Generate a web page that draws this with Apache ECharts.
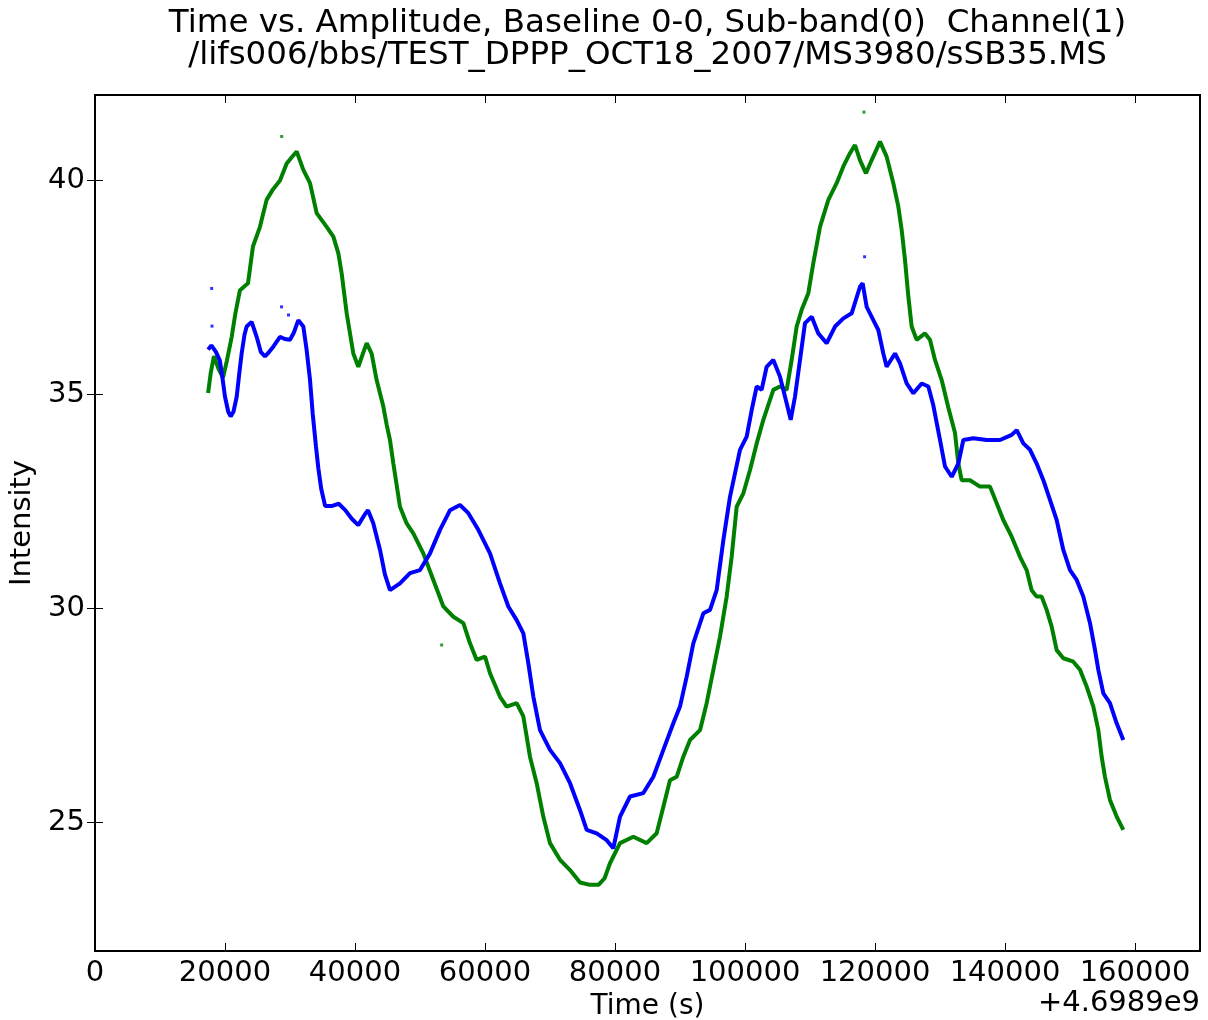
<!DOCTYPE html>
<html>
<head>
<meta charset="utf-8">
<script src="https://cdn.jsdelivr.net/npm/echarts@6/dist/echarts.min.js"></script>
<style>html,body{margin:0;padding:0;background:#fff}#c{width:1208px;height:1020px}</style>
</head>
<body>
<div id="c"></div>
<script>
// ---- data (time offset from 4.6989e9 s, amplitude) ----
const titleLine1 = "Time vs. Amplitude, Baseline 0-0, Sub-band(0)  Channel(1)";
const titleLine2 = "/lifs006/bbs/TEST_DPPP_OCT18_2007/MS3980/sSB35.MS";
const xTicks = [0, 20000, 40000, 60000, 80000, 100000, 120000, 140000, 160000];
const yTicks = [25, 30, 35, 40];
const xOffsetLabel = "+4.6989e9";

const blueTime = [17400,17900,18600,19200,19600,20000,20500,20870,21300,21800,22200,22560,23000,23330,24100,24870,25500,26150,26800,27430,28460,29200,30000,30600,31280,32050,32560,33080,33490,34000,34360,34800,35400,36500,37500,38500,39500,40500,41500,42000,42800,43850,44600,45380,46920,48460,50000,51540,53080,54620,56150,57440,58970,60770,62310,63590,64870,65900,66670,67440,68460,70000,71540,73080,74620,75640,77180,78720,79740,80770,82310,84360,85900,87440,88970,90000,91030,92050,93590,94620,95640,96670,97690,99230,100260,101030,101800,102560,103330,104360,105380,106410,107030,107690,108460,109230,110260,111280,112560,113850,115130,116410,117690,118100,118720,119740,120510,121280,121790,123080,123850,124870,125900,127180,128210,128970,130000,130770,131800,132820,133590,135130,137180,139230,141030,141800,142820,143850,144870,145900,146920,147950,148970,150000,151030,152050,153080,153850,154360,155130,156150,157180,158200];
const blueAmp = [36.05,36.15,36.0,35.8,35.4,34.95,34.6,34.49,34.6,34.95,35.5,35.96,36.4,36.59,36.7,36.35,36.0,35.89,36.0,36.12,36.35,36.3,36.28,36.45,36.74,36.59,36.04,35.34,34.56,33.78,33.28,32.8,32.4,32.4,32.45,32.3,32.1,31.95,32.2,32.3,32.0,31.37,30.8,30.43,30.59,30.83,30.9,31.29,31.84,32.3,32.42,32.23,31.84,31.29,30.59,30.05,29.73,29.42,28.72,27.94,27.16,26.7,26.39,25.92,25.29,24.83,24.75,24.59,24.4,25.14,25.61,25.69,26.07,26.7,27.32,27.71,28.41,29.19,29.89,29.97,30.43,31.6,32.61,33.71,34.02,34.64,35.19,35.11,35.65,35.81,35.42,34.8,34.41,34.95,35.81,36.67,36.82,36.43,36.2,36.59,36.78,36.9,37.52,37.6,37.05,36.74,36.51,35.96,35.65,35.96,35.73,35.26,35.03,35.26,35.19,34.75,33.94,33.32,33.08,33.39,33.94,33.98,33.94,33.94,34.06,34.17,33.86,33.71,33.39,33.0,32.54,32.07,31.37,30.9,30.67,30.28,29.66,29.03,28.57,28.02,27.79,27.32,26.93];

const greenTime = [17400,17800,18300,19000,19700,20300,21030,21600,22300,23540,24300,25380,26400,27400,28460,29490,30300,31030,32050,33080,34100,35640,36670,37440,37950,38720,39740,40510,41200,41800,42560,43330,44360,44870,45380,45900,46920,47950,48970,50510,52050,53590,55130,56670,57690,58720,60000,60770,62310,63330,64870,65900,66920,67950,68970,70000,71540,73080,74620,76000,77500,78400,79230,80770,82820,84870,86410,87440,88460,89490,90510,91540,93080,94100,95130,96150,97180,97950,98720,99740,100770,101800,102820,104360,105380,106410,107180,107950,108720,109740,110510,111540,112820,114100,115130,116150,116920,117690,118610,119490,120770,121790,122820,123590,124100,124620,125130,125640,126410,127690,128460,129230,130260,131280,132310,132820,133330,134620,136150,137690,138720,139740,141030,142310,143330,144100,144870,145640,146410,147180,147950,148970,150510,151540,152560,153590,154360,154870,155380,156150,157180,158200];
const greenAmp = [35.04,35.5,35.9,35.6,35.4,35.8,36.35,36.9,37.44,37.6,38.46,38.92,39.55,39.8,40.0,40.4,40.55,40.68,40.25,39.94,39.24,38.92,38.69,38.3,37.83,36.9,35.96,35.65,35.95,36.2,35.96,35.34,34.72,34.3,33.94,33.39,32.38,31.99,31.76,31.29,30.67,30.05,29.81,29.66,29.19,28.8,28.88,28.49,27.94,27.71,27.79,27.48,26.54,25.92,25.14,24.52,24.13,23.89,23.6,23.55,23.55,23.7,24.05,24.52,24.67,24.52,24.75,25.37,25.99,26.07,26.54,26.93,27.16,27.79,28.57,29.34,30.28,31.21,32.38,32.69,33.24,33.86,34.41,35.11,35.19,35.11,35.81,36.59,36.98,37.37,38.07,38.92,39.55,39.94,40.33,40.64,40.83,40.48,40.17,40.48,40.91,40.56,39.94,39.39,38.85,38.14,37.29,36.59,36.28,36.43,36.28,35.81,35.34,34.7,34.1,33.39,33.0,33.0,32.85,32.85,32.46,32.07,31.68,31.21,30.9,30.43,30.28,30.28,29.97,29.58,29.03,28.84,28.76,28.57,28.18,27.71,27.16,26.54,26.07,25.53,25.14,24.83];

const blueOutTime = [17950, 18000, 28700, 29770, 118400];
const blueOutAmp  = [37.48, 36.6, 37.05, 36.86, 38.22];
const greenOutTime = [28720, 118300, 53330];
const greenOutAmp  = [41.03, 41.6, 29.15];

// ---- chart ----
const pair = (t, v) => t.map((x, i) => [x, v[i]]);
const FONT = 'DejaVu Sans';
const BLUE = '#0000ff', GREEN = '#008000';
const tickStyle = { show: true, inside: true, length: 8, lineStyle: { color: '#000', width: 1 } };
const plain = v => String(v);

const chart = echarts.init(document.getElementById('c'), null, { renderer: 'canvas' });
chart.setOption({
  backgroundColor: '#ffffff',
  animation: false,
  grid: { left: 95, right: 8, top: 95, bottom: 69, outerBoundsMode: 'none', containLabel: false,
          show: true, borderColor: '#000', borderWidth: 2, backgroundColor: 'transparent' },
  xAxis: [
    { type: 'value', position: 'bottom', min: 0, max: 170000,
      axisLine: { show: false },
      axisTick: Object.assign({ customValues: xTicks }, tickStyle),
      axisLabel: { customValues: xTicks, formatter: plain, color: '#000', fontFamily: FONT, fontSize: 29, margin: 8 },
      splitLine: { show: false },
      name: 'Time (s)', nameLocation: 'middle', nameGap: 40,
      nameTextStyle: { color: '#000', fontFamily: FONT, fontSize: 28 } },
    { type: 'value', position: 'top', min: 0, max: 170000,
      axisLine: { show: false },
      axisTick: Object.assign({ customValues: xTicks }, tickStyle),
      axisLabel: { show: false }, splitLine: { show: false } }
  ],
  yAxis: [
    { type: 'value', position: 'left', min: 22, max: 42,
      axisLine: { show: false },
      axisTick: Object.assign({ customValues: yTicks }, tickStyle),
      axisLabel: { customValues: yTicks, formatter: plain, color: '#000', fontFamily: FONT, fontSize: 29, margin: 10 },
      splitLine: { show: false },
      name: 'Intensity', nameLocation: 'middle', nameGap: 49,
      nameTextStyle: { color: '#000', fontFamily: FONT, fontSize: 29 } },
    { type: 'value', position: 'right', min: 22, max: 42,
      axisLine: { show: false },
      axisTick: Object.assign({ customValues: yTicks }, tickStyle),
      axisLabel: { show: false }, splitLine: { show: false } }
  ],
  graphic: [
    { type: 'text', x: 647.5, y: 23.5, style: { text: titleLine1, fill: '#000', font: '32.5px "DejaVu Sans"', textAlign: 'center', textVerticalAlign: 'middle' } },
    { type: 'text', x: 647.5, y: 55.5, style: { text: titleLine2, fill: '#000', font: '32.5px "DejaVu Sans"', textAlign: 'center', textVerticalAlign: 'middle' } },
    { type: 'text', x: 1200, y: 1003, style: { text: xOffsetLabel, fill: '#000', font: '29px "DejaVu Sans"', textAlign: 'right', textVerticalAlign: 'middle' } }
  ],
  series: [
    { name: 'green', type: 'line', data: pair(greenTime, greenAmp), xAxisIndex: 0, yAxisIndex: 0,
      showSymbol: false, symbol: 'none', lineStyle: { color: GREEN, width: 4 }, itemStyle: { color: GREEN }, z: 2 },
    { name: 'blue', type: 'line', data: pair(blueTime, blueAmp), xAxisIndex: 0, yAxisIndex: 0,
      showSymbol: false, symbol: 'none', lineStyle: { color: BLUE, width: 4 }, itemStyle: { color: BLUE }, z: 3 },
    { name: 'greenOut', type: 'scatter', data: pair(greenOutTime, greenOutAmp), symbol: 'rect', symbolSize: 3, itemStyle: { color: GREEN } },
    { name: 'blueOut', type: 'scatter', data: pair(blueOutTime, blueOutAmp), symbol: 'rect', symbolSize: 3, itemStyle: { color: BLUE } }
  ]
});
</script>
</body>
</html>
